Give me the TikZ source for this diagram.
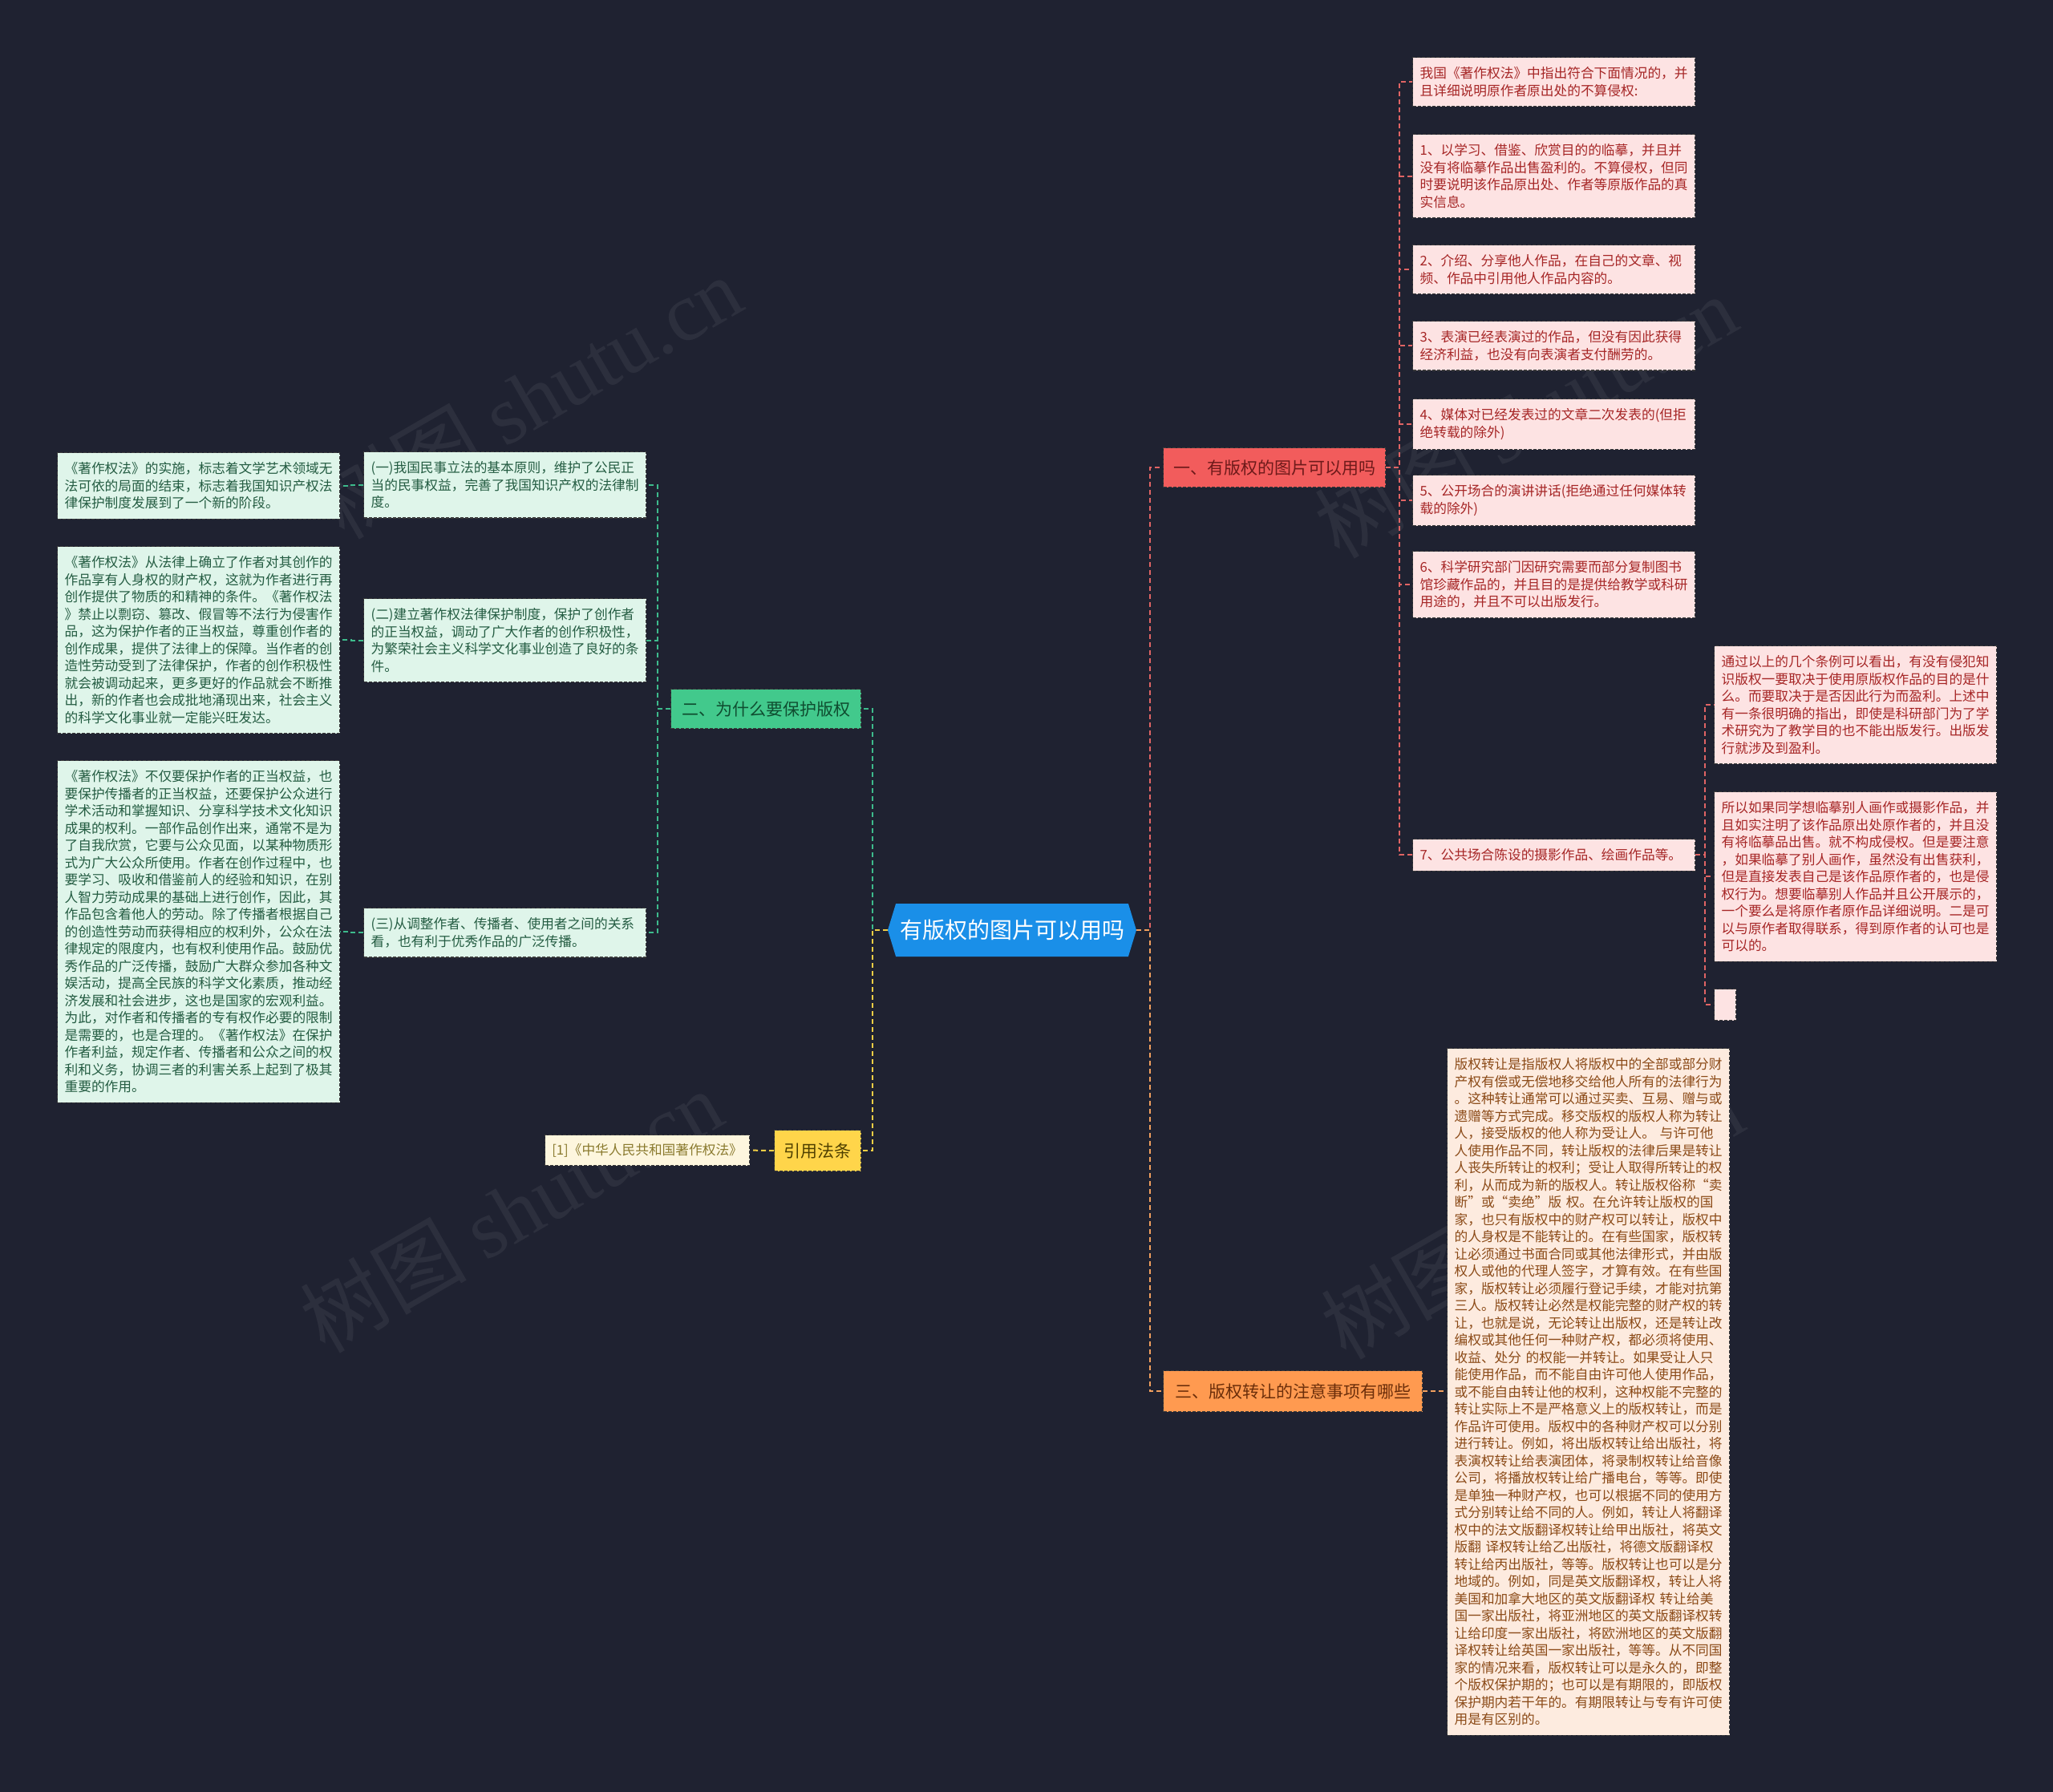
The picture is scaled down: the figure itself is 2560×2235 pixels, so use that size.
\documentclass[tikz,border=0pt]{standalone}
\usepackage{fontspec}
\setmainfont{Noto Sans CJK SC}
\newfontfamily\wmfont{Liberation Serif}
\usetikzlibrary{shapes.symbols}
\definecolor{bg}{HTML}{1F2231}
\definecolor{centerblue}{HTML}{1A8FE8}
\definecolor{redfill}{HTML}{F25C5C}
\definecolor{redtext}{HTML}{6E1A1A}
\definecolor{greenfill}{HTML}{42C98C}
\definecolor{greentext}{HTML}{0F4D30}
\definecolor{orangefill}{HTML}{FF9A50}
\definecolor{orangetext}{HTML}{6B2E0A}
\definecolor{yellowfill}{HTML}{FFD54A}
\definecolor{yellowtext}{HTML}{4F4000}
\definecolor{pinkfill}{HTML}{FDE3E3}
\definecolor{pinktext}{HTML}{A62626}
\definecolor{mintfill}{HTML}{DFF5EA}
\definecolor{minttext}{HTML}{245C42}
\definecolor{peachfill}{HTML}{FDEBDF}
\definecolor{peachtext}{HTML}{8B4A17}
\definecolor{reffill}{HTML}{FDF6DE}
\definecolor{reftext}{HTML}{8A7A2E}
\definecolor{redline}{HTML}{E06464}
\definecolor{greenline}{HTML}{3DBB8C}
\definecolor{orangeline}{HTML}{F2A05E}
\definecolor{yellowline}{HTML}{F2CE45}
\definecolor{boxline}{HTML}{3A3A3A}
\tikzset{
  box/.style={anchor=north west, align=left, text width=334pt, inner xsep=9pt, inner ysep=12pt,
    font=\fontsize{16.7}{21.5}\selectfont, line width=1.2pt, dash pattern=on 4pt off 2pt, draw=boxline},
  pinkbox/.style={box, fill=pinkfill, text=pinktext},
  mintbox/.style={box, fill=mintfill, text=minttext},
  peachbox/.style={box, fill=peachfill, text=peachtext},
  branchbox/.style={anchor=north west, inner sep=0pt, align=center, font=\fontsize{21}{21}\selectfont,
    line width=1.2pt, dash pattern=on 4pt off 2pt, draw=boxline},
  conn/.style={line width=2pt, dash pattern=on 6pt off 4pt, draw=#1},
  wm/.style={rotate=30, text=white, opacity=0.06, font=\fontsize{104}{104}\selectfont},
}
\begin{document}
\begin{tikzpicture}[x=1pt,y=-1pt]
\fill[bg] (0,0) rectangle (2560,2235);
\useasboundingbox (0,0) rectangle (2560,2235);

% watermarks
\node[wm] (wm1) at (661,495) {树图 {\wmfont shutu.cn}};
\node[wm] (wm2) at (1902,519) {树图 {\wmfont shutu.cn}};
\node[wm] (wm3) at (637,1510) {树图 {\wmfont shutu.cn}};
\node[wm] (wm4) at (1910,1518) {树图 {\wmfont shutu.cn}};

% center
\node[signal, signal to=east and west, signal pointer angle=146, fill=centerblue, text=white,
  font=\fontsize{28}{28}\selectfont, minimum width=310pt, minimum height=66pt, inner sep=0pt]
  (c) at (1262,1160) {有版权的图片可以用吗};

% branches
\node[branchbox, fill=redfill, text=redtext, minimum width=277pt, minimum height=49pt] (b1) at (1450,558) {一、有版权的图片可以用吗};
\node[branchbox, fill=greenfill, text=greentext, minimum width=237pt, minimum height=49pt] (b2) at (836,859) {二、为什么要保护版权};
\node[branchbox, fill=orangefill, text=orangetext, minimum width=323pt, minimum height=51pt] (b3) at (1450,1709) {三、版权转让的注意事项有哪些};
\node[branchbox, fill=yellowfill, text=yellowtext, minimum width=108pt, minimum height=51pt] (b4) at (965,1409) {引用法条};

% branch 1 leaves
\node[pinkbox] (l0) at (1761,71) {我国《著作权法》中指出符合下面情况的，并\\且详细说明原作者原出处的不算侵权:};
\node[pinkbox] (l1) at (1761,167) {1、以学习、借鉴、欣赏目的的临摹，并且并\\没有将临摹作品出售盈利的。不算侵权，但同\\时要说明该作品原出处、作者等原版作品的真\\实信息。};
\node[pinkbox] (l2) at (1761,305) {2、介绍、分享他人作品，在自己的文章、视\\频、作品中引用他人作品内容的。};
\node[pinkbox] (l3) at (1761,400) {3、表演已经表演过的作品，但没有因此获得\\经济利益，也没有向表演者支付酬劳的。};
\node[pinkbox] (l4) at (1761,497) {4、媒体对已经发表过的文章二次发表的(但拒\\绝转载的除外)};
\node[pinkbox] (l5) at (1761,592) {5、公开场合的演讲讲话(拒绝通过任何媒体转\\载的除外)};
\node[pinkbox] (l6) at (1761,687) {6、科学研究部门因研究需要而部分复制图书\\馆珍藏作品的，并且目的是提供给教学或科研\\用途的，并且不可以出版发行。};
\node[pinkbox] (l7) at (1761,1046) {7、公共场合陈设的摄影作品、绘画作品等。};

\node[pinkbox] (r1) at (2137,805) {通过以上的几个条例可以看出，有没有侵犯知\\识版权一要取决于使用原版权作品的目的是什\\么。而要取决于是否因此行为而盈利。上述中\\有一条很明确的指出，即使是科研部门为了学\\术研究为了教学目的也不能出版发行。出版发\\行就涉及到盈利。};
\node[pinkbox] (r2) at (2137,987) {所以如果同学想临摹别人画作或摄影作品，并\\且如实注明了该作品原出处原作者的，并且没\\有将临摹品出售。就不构成侵权。但是要注意\\，如果临摹了别人画作，虽然没有出售获利，\\但是直接发表自己是该作品原作者的，也是侵\\权行为。想要临摹别人作品并且公开展示的，\\一个要么是将原作者原作品详细说明。二是可\\以与原作者取得联系，得到原作者的认可也是\\可以的。};
\node[anchor=north west, fill=pinkfill, line width=1.2pt, dash pattern=on 4pt off 2pt, draw=boxline,
  minimum width=27pt, minimum height=39pt, inner sep=0pt] (r3) at (2137,1233) {};

% branch 3 leaf
\node[peachbox] (t1) at (1804,1307) {版权转让是指版权人将版权中的全部或部分财\\产权有偿或无偿地移交给他人所有的法律行为\\。这种转让通常可以通过买卖、互易、赠与或\\遗赠等方式完成。移交版权的版权人称为转让\\人，接受版权的他人称为受让人。 与许可他\\人使用作品不同，转让版权的法律后果是转让\\人丧失所转让的权利；受让人取得所转让的权\\利，从而成为新的版权人。转让版权俗称“卖\\断”或“卖绝”版 权。在允许转让版权的国\\家，也只有版权中的财产权可以转让，版权中\\的人身权是不能转让的。在有些国家，版权转\\让必须通过书面合同或其他法律形式，并由版\\权人或他的代理人签字，才算有效。在有些国\\家，版权转让必须履行登记手续，才能对抗第\\三人。版权转让必然是权能完整的财产权的转\\让，也就是说，无论转让出版权，还是转让改\\编权或其他任何一种财产权，都必须将使用、\\收益、处分 的权能一并转让。如果受让人只\\能使用作品，而不能自由许可他人使用作品，\\或不能自由转让他的权利，这种权能不完整的\\转让实际上不是严格意义上的版权转让，而是\\作品许可使用。版权中的各种财产权可以分别\\进行转让。例如，将出版权转让给出版社，将\\表演权转让给表演团体，将录制权转让给音像\\公司，将播放权转让给广播电台，等等。即使\\是单独一种财产权，也可以根据不同的使用方\\式分别转让给不同的人。例如，转让人将翻译\\权中的法文版翻译权转让给甲出版社，将英文\\版翻 译权转让给乙出版社，将德文版翻译权\\转让给丙出版社，等等。版权转让也可以是分\\地域的。例如，同是英文版翻译权，转让人将\\美国和加拿大地区的英文版翻译权 转让给美\\国一家出版社，将亚洲地区的英文版翻译权转\\让给印度一家出版社，将欧洲地区的英文版翻\\译权转让给英国一家出版社，等等。从不同国\\家的情况来看，版权转让可以是永久的，即整\\个版权保护期的；也可以是有期限的，即版权\\保护期内若干年的。有期限转让与专有许可使\\用是有区别的。};

% branch 2 leaves
\node[mintbox] (g1) at (453,563) {(一)我国民事立法的基本原则，维护了公民正\\当的民事权益，完善了我国知识产权的法律制\\度。};
\node[mintbox] (g2) at (453,746) {(二)建立著作权法律保护制度，保护了创作者\\的正当权益，调动了广大作者的创作积极性，\\为繁荣社会主义科学文化事业创造了良好的条\\件。};
\node[mintbox] (g3) at (453,1132) {(三)从调整作者、传播者、使用者之间的关系\\看，也有利于优秀作品的广泛传播。};

\node[mintbox] (f1) at (71,564) {《著作权法》的实施，标志着文学艺术领域无\\法可依的局面的结束，标志着我国知识产权法\\律保护制度发展到了一个新的阶段。};
\node[mintbox] (f2) at (71,681) {《著作权法》从法律上确立了作者对其创作的\\作品享有人身权的财产权，这就为作者进行再\\创作提供了物质的和精神的条件。《著作权法\\》禁止以剽窃、篡改、假冒等不法行为侵害作\\品，这为保护作者的正当权益，尊重创作者的\\创作成果，提供了法律上的保障。当作者的创\\造性劳动受到了法律保护，作者的创作积极性\\就会被调动起来，更多更好的作品就会不断推\\出，新的作者也会成批地涌现出来，社会主义\\的科学文化事业就一定能兴旺发达。};
\node[mintbox] (f3) at (71,948) {《著作权法》不仅要保护作者的正当权益，也\\要保护传播者的正当权益，还要保护公众进行\\学术活动和掌握知识、分享科学技术文化知识\\成果的权利。一部作品创作出来，通常不是为\\了自我欣赏，它要与公众见面，以某种物质形\\式为广大公众所使用。作者在创作过程中，也\\要学习、吸收和借鉴前人的经验和知识，在别\\人智力劳动成果的基础上进行创作，因此，其\\作品包含着他人的劳动。除了传播者根据自己\\的创造性劳动而获得相应的权利外，公众在法\\律规定的限度内，也有权利使用作品。鼓励优\\秀作品的广泛传播，鼓励广大群众参加各种文\\娱活动，提高全民族的科学文化素质，推动经\\济发展和社会进步，这也是国家的宏观利益。\\为此，对作者和传播者的专有权作必要的限制\\是需要的，也是合理的。《著作权法》在保护\\作者利益，规定作者、传播者和公众之间的权\\利和义务，协调三者的利害关系上起到了极其\\重要的作用。};

% ref
\node[anchor=north west, fill=reffill, text=reftext, font=\fontsize{16.7}{16.7}\selectfont,
  line width=1.2pt, dash pattern=on 4pt off 2pt, draw=boxline, minimum width=255pt, minimum height=38pt, inner sep=0pt]
  (ref) at (679,1415) {[1]《中华人民共和国著作权法》};

% connectors: center to branches
\draw[conn=redline] (c.east) -- ++(17,0) |- (b1.west);
\draw[conn=orangeline] (c.east) -- ++(17,0) |- (b3.west);
\draw[conn=greenline] (c.west) -- ++(-19,0) |- (b2.east);
\draw[conn=yellowline] (c.west) -- ++(-19,0) |- (b4.east);

% branch 1
\foreach \n in {l0,l1,l2,l3,l4,l5,l6,l7}
  \draw[conn=redline] (b1.east) -- ++(17,0) |- (\n.west);
\foreach \n in {r1,r2,r3}
  \draw[conn=redline] (l7.east) -- ++(12,0) |- (\n.west);

% branch 3
\draw[conn=orangeline] (b3.east) -- (t1.west |- b3.east);

% branch 2
\foreach \n in {g1,g2,g3}
  \draw[conn=greenline] (b2.west) -- ++(-16,0) |- (\n.east);
\draw[conn=greenline] (g1.west) -- ++(-15,0) |- (f1.east);
\draw[conn=greenline] (g2.west) -- ++(-15,0) |- (f2.east);
\draw[conn=greenline] (g3.west) -- ++(-15,0) |- (f3.east);

% branch 4
\draw[conn=yellowline] (b4.west) -- (ref.east);
\end{tikzpicture}
\end{document}
